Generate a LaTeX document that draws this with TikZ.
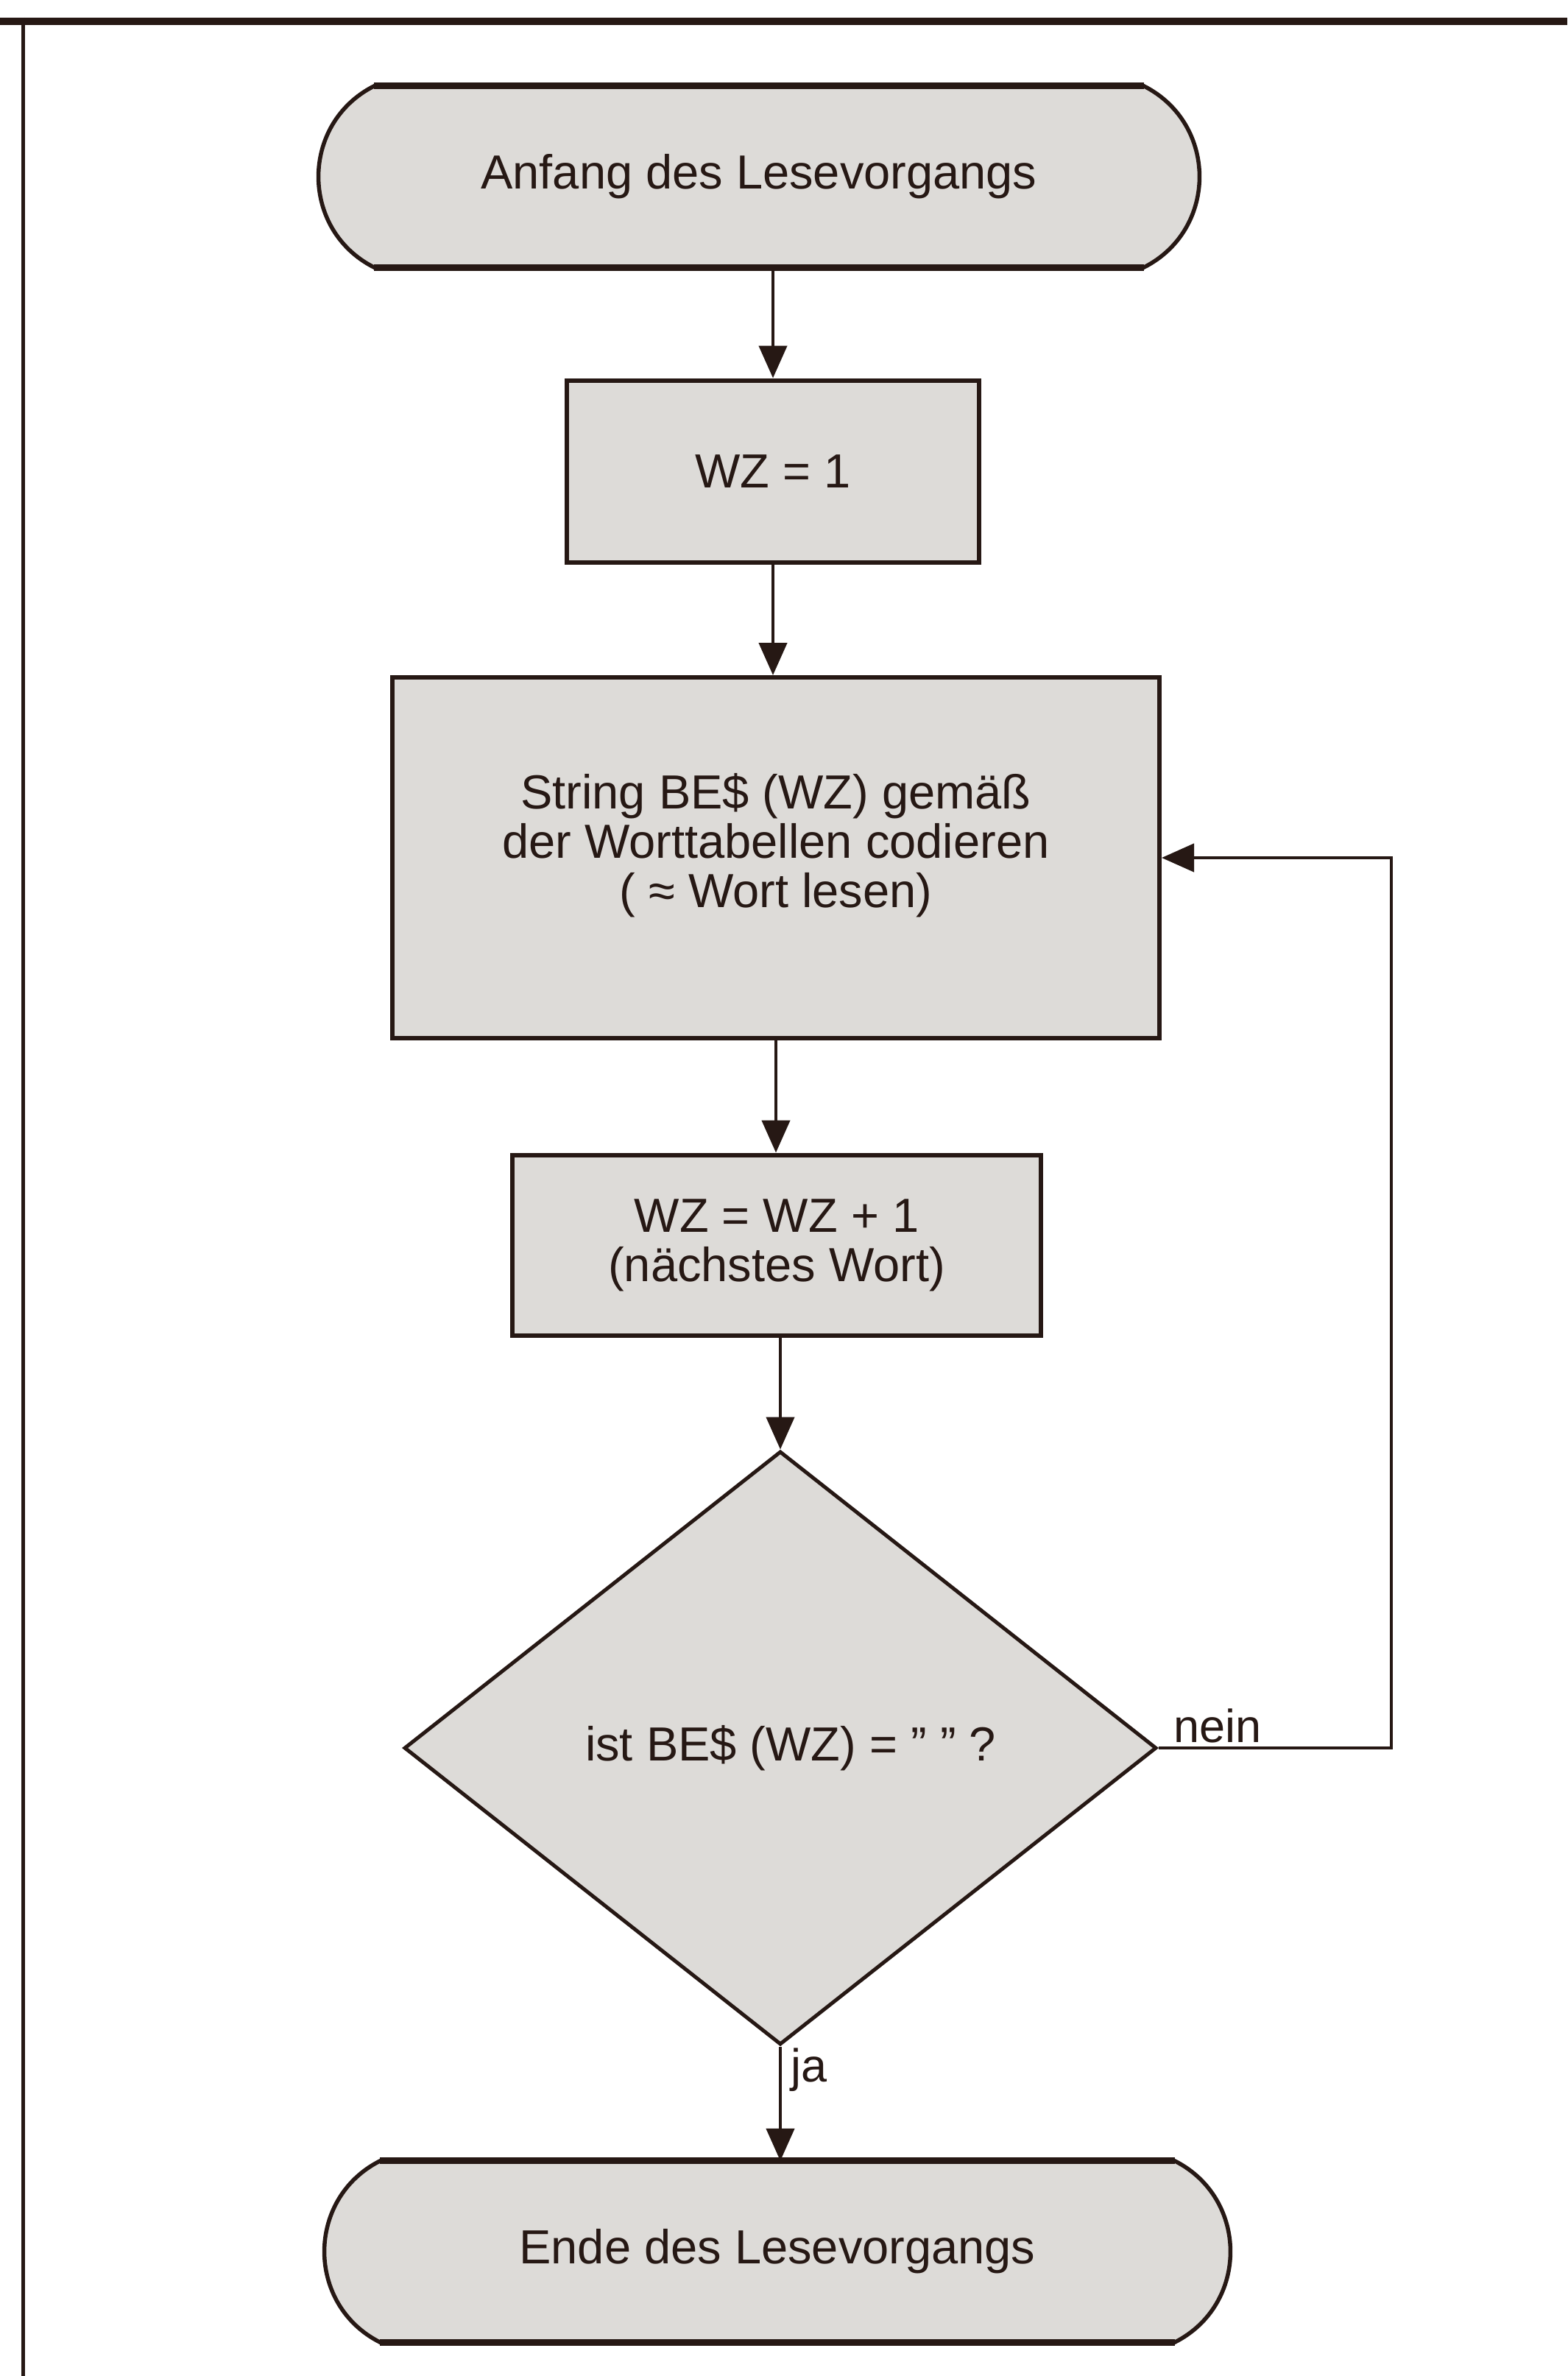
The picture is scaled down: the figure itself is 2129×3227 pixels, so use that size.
\documentclass[tikz,border=0pt]{standalone}
\usepackage{fontspec}
\setmainfont{Liberation Sans}
\usetikzlibrary{arrows.meta,shapes.geometric,backgrounds,calc}
\definecolor{ink}{RGB}{38,24,20}
\definecolor{boxfill}{RGB}{221,219,216}
\begin{document}
\begin{tikzpicture}[x=1pt,y=-1pt,
  every node/.style={font=\fontsize{65}{67}\selectfont, text=ink},
  procbox/.style={rectangle, draw=ink, fill=boxfill, line width=6pt, inner sep=0pt, align=center},
  termnode/.style={rectangle, inner sep=0pt, minimum height=246pt},
  termfill/.style={fill=boxfill, draw=ink, line width=5.5pt},
  termedge/.style={draw=ink, line width=9pt},
  decision/.style={diamond, draw=ink, fill=boxfill, line width=5pt, inner sep=0pt},
  conn/.style={draw=ink, line width=4.5pt},
  arr/.style={conn, -{Triangle[length=44pt,width=38pt]}},
  lab/.style={font=\fontsize{63}{65}\selectfont},
  framebar/.style={draw=ink}
]
\useasboundingbox (0,0) rectangle (2129,3227);
\begin{scope}[on background layer]
  \fill[white] (0,0) rectangle (2129,3227);
\end{scope}

% frame
\draw[framebar, line width=10pt] (0,29) -- (2129,29);
\draw[framebar, line width=5pt] (31,24) -- (31,3227);

% start terminator
\node[termnode, minimum width=1045pt] (start) at (1031,240) {Anfang des Lesevorgangs};
\begin{scope}[on background layer]
  \path[termfill] (start.north east) .. controls +(101,51) and +(101,-51) .. (start.south east)
     -- (start.south west) .. controls +(-101,-51) and +(-101,51) .. (start.north west) -- cycle;
  \draw[termedge] (start.north west) -- (start.north east) (start.south west) -- (start.south east);
\end{scope}

% process boxes
\node[procbox, minimum width=560pt, minimum height=247pt] (b1) at (1050,640) {WZ = 1};
\node[procbox, minimum width=1042pt, minimum height=490pt,
  label={[name=b2text, align=center, yshift=17pt]center:String BE\$ (WZ) gemäß\\der Worttabellen codieren\\( ≈ Wort lesen)}]
  (b2) at (1054,1165) {};
\node[procbox, minimum width=718pt, minimum height=245pt] (b3) at (1055,1691)
  {WZ = WZ + 1\\(nächstes Wort)};

% decision
\node[decision, minimum width=1022pt, minimum height=806pt] (dia) at (1060,2374)
  {\makebox[0pt]{\hspace*{28pt}ist BE\$ (WZ) = ” ” ?}};

% end terminator
\node[termnode, minimum width=1079pt] (end) at (1056,3058) {Ende des Lesevorgangs};
\begin{scope}[on background layer]
  \path[termfill] (end.north east) .. controls +(101,51) and +(101,-51) .. (end.south east)
     -- (end.south west) .. controls +(-101,-51) and +(-101,51) .. (end.north west) -- cycle;
  \draw[termedge] (end.north west) -- (end.north east) (end.south west) -- (end.south east);
\end{scope}

% connectors
\coordinate (loopx) at (1890,0);
\draw[arr] (start.south -| b1.north) -- (b1.north);
\draw[arr] (b1.south) -- (b1.south |- b2.north);
\draw[arr] (b2.south) -- (b2.south |- b3.north);
\draw[arr] (b3.south -| dia.north) -- (dia.north);
\draw[arr] (dia.east) -- (dia.east -| loopx) |- (b2.east);
\draw[arr] (dia.south) -- (dia.south |- end.north);

% labels
\node[lab, anchor=base west] (nein) at ($(dia.east)+(17,-8)$) {nein};
\node[lab, anchor=base west] (ja) at ($(dia.south)+(11,48)$) {ja};
\end{tikzpicture}
\end{document}
